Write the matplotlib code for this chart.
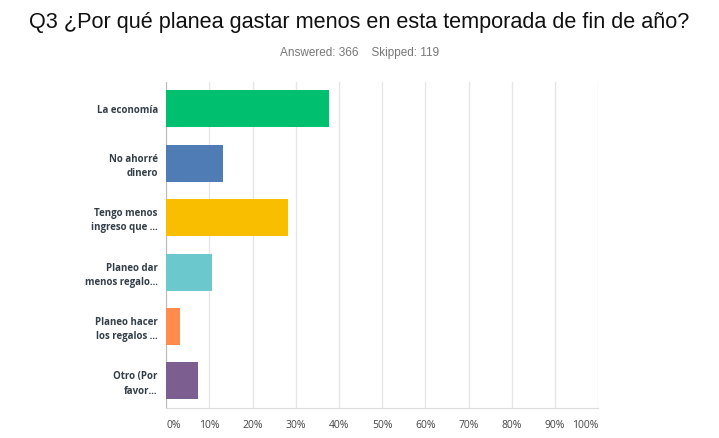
import matplotlib.pyplot as plt
import numpy as np

categories = ["La economía", "No ahorré\ndinero", "Tengo menos\ningreso que ...",
              "Planeo dar\nmenos regalo...", "Planeo hacer\nlos regalos ...", "Otro (Por\nfavor..."]
values = [37.8, 13.2, 28.1, 10.7, 3.2, 7.4]
colors = ["#00BF6F", "#507CB6", "#F9BE00", "#6BC8CD", "#FF8B4F", "#7D5E90"]
xticks = [0, 10, 20, 30, 40, 50, 60, 70, 80, 90, 100]
xlabels = [f"{t}%" for t in xticks]

fig = plt.figure(figsize=(7.19, 4.38), dpi=100)
ax = fig.add_axes([0.231, 0.0685, 0.601, 0.745])

y = np.arange(len(categories))
ax.barh(y, values, height=0.68, color=colors, zorder=3)
ax.set_ylim(len(categories) - 0.5, -0.5)
ax.set_xlim(0, 100)

ax.set_xticks(xticks)
ax.set_xticklabels(xlabels, fontsize=7.5, color="#444444", family="Open Sans")
labs = ax.get_xticklabels()
labs[0].set_ha("left")
labs[-1].set_ha("right")
ax.tick_params(axis="x", length=0, pad=9)

ax.set_yticks(y)
ax.set_yticklabels(categories, fontsize=7, fontweight="bold", color="#333e48",
                   family="Open Sans", linespacing=1.4)
ax.tick_params(axis="y", length=0, pad=6)

ax.grid(axis="x", color="#e6e6e6", linewidth=1, zorder=0)
for s in ["top", "right"]:
    ax.spines[s].set_visible(False)
ax.spines["left"].set_color("#bbbbbb")
ax.spines["bottom"].set_color("#dddddd")

fig.text(0.5, 0.948, "Q3 ¿Por qué planea gastar menos en esta temporada de fin de año?",
         ha="center", va="center", fontsize=15.6, family="Liberation Sans", color="#111111")
fig.text(0.5, 0.878, "Answered: 366    Skipped: 119", ha="center", va="center",
         fontsize=8.5, family="Liberation Sans", color="#777777")

plt.savefig("out.png", dpi=100)
